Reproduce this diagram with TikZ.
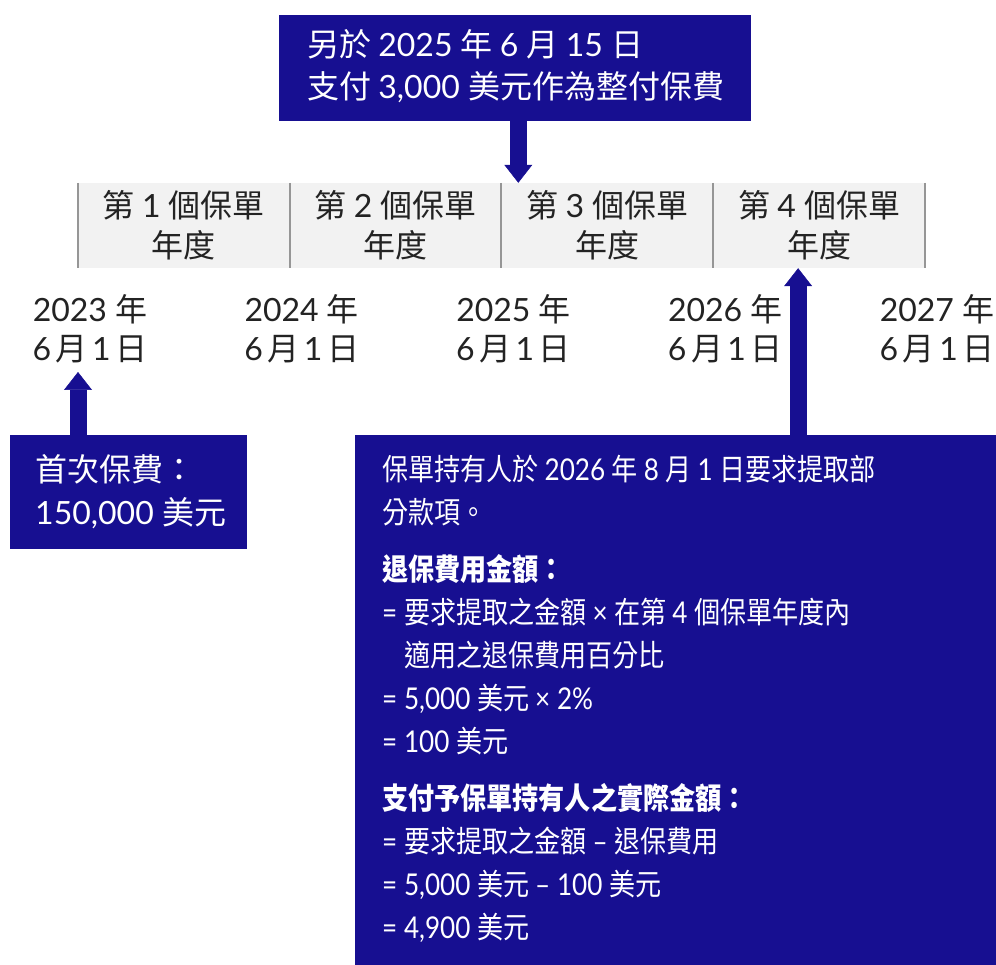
\documentclass[tikz,border=0pt]{standalone}
\usepackage{graphicx}
\usepackage{fontspec}
\setmainfont{Lato}
\newfontfamily\cjkfont{Noto Sans CJK TC}
\usetikzlibrary{arrows.meta}
\definecolor{navy}{RGB}{23,15,145}
\definecolor{bargray}{RGB}{242,242,242}
\definecolor{linegray}{RGB}{150,150,150}
\definecolor{textgray}{RGB}{35,35,35}
% switch to the CJK font for Chinese characters
\XeTeXinterchartokenstate=1
\newXeTeXintercharclass\hanclass
\count255="3000
\loop\XeTeXcharclass\count255=\hanclass\advance\count255 by 1 \ifnum\count255<"A000\repeat
\count255="FF00
\loop\XeTeXcharclass\count255=\hanclass\advance\count255 by 1 \ifnum\count255<"FFF0\repeat
\XeTeXinterchartoks 0 \hanclass = {\cjkfont}
\XeTeXinterchartoks 4095 \hanclass = {\cjkfont}
\XeTeXinterchartoks \hanclass 0 = {\rmfamily}
\XeTeXinterchartoks 4095 0 = {\rmfamily}
\newcommand{\gap}{\hspace{0.14em}}

\begin{document}
\begin{tikzpicture}[x=1pt,y=-1pt,
    box/.style={fill=navy, inner sep=0pt},
    boxtxt/.style={anchor=west, align=left, text=white, inner sep=0pt},
    bigarrow/.style={navy, line width=17pt, -{Triangle[width=28pt,length=18pt,line width=0.5pt]}},
    yearcell/.style={fill=bargray, minimum width=211.75pt, minimum height=85pt, inner sep=0pt,
        align=center, text=textgray, font=\fontsize{32}{40}\selectfont},
    datetxt/.style={align=center, text=textgray, font=\fontsize{32}{39}\selectfont},
    sepline/.style={linegray, line width=2pt}]
    \useasboundingbox (0,0) rectangle (996,965);

    % policy years
    \foreach \i in {1,...,4}
        \node[yearcell] (yr\i) at ({78+211.75*(\i-0.5)},225.5) {第 \i{} 個保單\\年度};
    \foreach \i in {1,...,4}
        \draw[sepline] (yr\i.north west) -- (yr\i.south west);
    \draw[sepline] (yr4.north east) -- (yr4.south east);

    % anniversaries
    \foreach \yr [count=\i] in {2023,...,2027}
        \node[datetxt] (d\i) at ({90+211.75*(\i-1)},329) {\yr{} 年\\6\gap 月\gap 1\gap 日};

    % single premium
    \node[box, minimum width=472pt, minimum height=106pt] (pay) at (515,68) {};
    \node[boxtxt, font=\fontsize{32}{42}\selectfont] (paytxt) at (307,66)
        {另於 2025 年 6 月 15 日\\支付 3,000 美元作為整付保費};
    \coordinate (tipA) at ([xshift=17pt]yr3.north west);
    \draw[bigarrow] (pay.south -| tipA) -- (tipA);

    % initial premium
    \node[box, minimum width=237pt, minimum height=114pt] (init) at (128.5,492) {};
    \node[boxtxt, font=\fontsize{32}{43}\selectfont] (inittxt) at (35,492)
        {首次保費：\\150,000 美元};
    \coordinate (tipB) at (78,372);
    \draw[bigarrow] (init.north -| tipB) -- (tipB);

    % partial withdrawal
    \node[box, minimum width=641pt, minimum height=530pt] (wd) at (675.5,700) {};
    \node[boxtxt, font=\fontsize{30}{43}\selectfont] (wdtxt) at (382,701)
        {\scalebox{0.87}[1]{\begin{tabular}{@{}l@{}}
        保單持有人於 2026 年 8 月 1 日要求提取部\\
        分款項。\\[14pt]
        \textbf{退保費用金額：}\\
        = 要求提取之金額 × 在第 4 個保單年度內\\
        \phantom{= }適用之退保費用百分比\\
        = 5,000 美元 × 2\%\\
        = 100 美元\\[14pt]
        \textbf{支付予保單持有人之實際金額：}\\
        = 要求提取之金額 – 退保費用\\
        = 5,000 美元 – 100 美元\\
        = 4,900 美元
        \end{tabular}}};
    \coordinate (tipC) at ([xshift=-21pt]yr4.south);
    \draw[bigarrow] (wd.north -| tipC) -- (tipC);
\end{tikzpicture}
\end{document}
